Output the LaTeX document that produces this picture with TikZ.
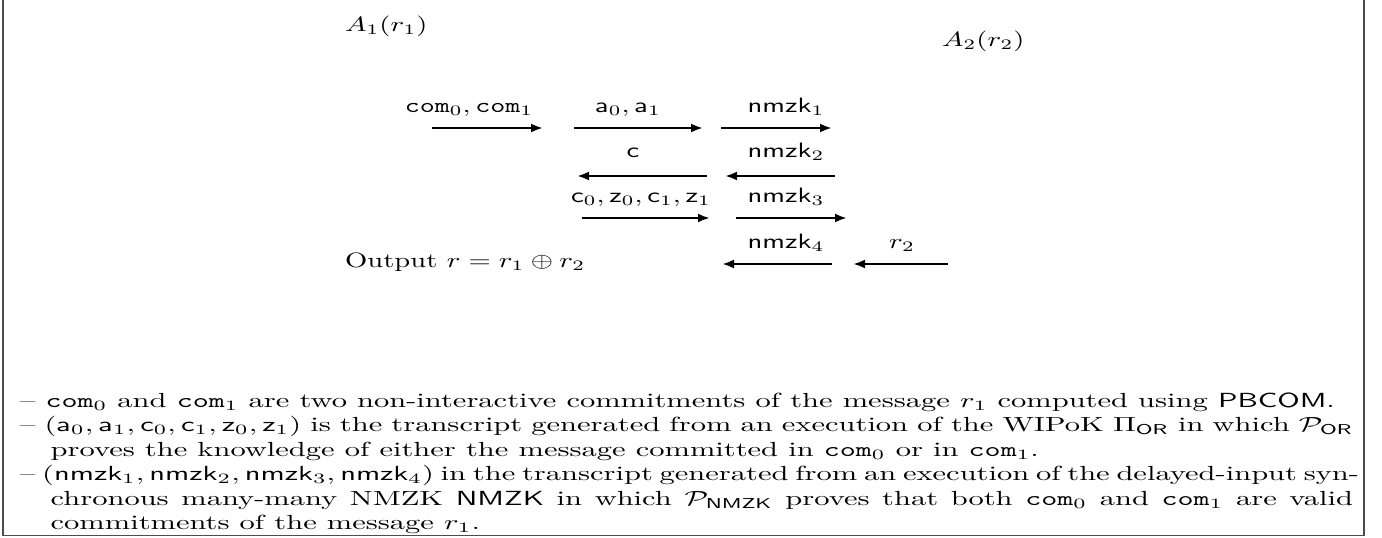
\documentclass[tikz,border=0pt]{standalone}
\usepackage{amsmath,amssymb}
\usepackage{graphicx}
\usetikzlibrary{arrows.meta}
% text is set at 10pt and widened to the page grid
\newcommand{\wide}[1]{\scalebox{2.86}[2.08]{#1}}
\newcommand{\notewide}[1]{\scalebox{3.05}[2.042]{#1}}
\newlength{\contindent}
\setlength{\contindent}{10pt}
\begin{document}
\begin{tikzpicture}[x=1pt,y=-1pt]
\useasboundingbox (0,0) rectangle (1382,538);
\tikzset{
  msg/.style={line width=2.7pt, -{Latex[length=12pt,width=9pt]}},
  lbl/.style={anchor=base, inner sep=0pt},
  lft/.style={anchor=base west, inner sep=0pt},
  frame/.style={draw=black!70, line width=1.3pt}
}
% open frame (top edge lies above the page)
\draw[frame] (3,-5) -- (3,535.5) -- (1364,535.5) -- (1364,-5);

% parties
\node[lft] (A1) at (345,31) {\wide{$A_1(r_1)$}};
\node[lft] (A2) at (942,46) {\wide{$A_2(r_2)$}};

% message labels
\node[lbl] (lcom) at (469,112) {\wide{$\mathtt{com}_0,\mathtt{com}_1$}};
\node[lbl] (la)   at (628,112) {\wide{$\mathsf{a}_0,\mathsf{a}_1$}};
\node[lbl] (ln1)  at (786,112) {\wide{$\mathsf{nmzk}_1$}};
\node[lbl] (lc)   at (633,157) {\wide{$\mathsf{c}$}};
\node[lbl] (ln2)  at (786,157) {\wide{$\mathsf{nmzk}_2$}};
\node[lbl] (lcz)  at (641,202) {\wide{$\mathsf{c}_0,\mathsf{z}_0,\mathsf{c}_1,\mathsf{z}_1$}};
\node[lbl] (ln3)  at (786,202) {\wide{$\mathsf{nmzk}_3$}};
\node[lbl] (ln4)  at (786,248) {\wide{$\mathsf{nmzk}_4$}};
\node[lbl] (lr2)  at (902,248) {\wide{$r_2$}};
\node[lft] (out)  at (345,267) {\wide{Output $r=r_1\oplus r_2$}};

% arrow end points
\coordinate (comS) at (432,128); \coordinate (comE) at (543,128);
\coordinate (aS)   at (574,128); \coordinate (aE)   at (703,128);
\coordinate (n1S)  at (721,128); \coordinate (n1E)  at (832,128);
\coordinate (cS)   at (707,176); \coordinate (cE)   at (577,176);
\coordinate (n2S)  at (835,176); \coordinate (n2E)  at (725,176);
\coordinate (czS)  at (582,218); \coordinate (czE)  at (710,218);
\coordinate (n3S)  at (736,218); \coordinate (n3E)  at (847,218);
\coordinate (n4S)  at (832,264); \coordinate (n4E)  at (722,264);
\coordinate (r2S)  at (948,264); \coordinate (r2E)  at (853,264);

\draw[msg] (comS) -- (comE);
\draw[msg] (aS) -- (aE);
\draw[msg] (n1S) -- (n1E);
\draw[msg] (cS) -- (cE);
\draw[msg] (n2S) -- (n2E);
\draw[msg] (czS) -- (czE);
\draw[msg] (n3S) -- (n3E);
\draw[msg] (n4S) -- (n4E);
\draw[msg] (r2S) -- (r2E);

% notes under the protocol
\node[lft] (notes) at (20,407) {\notewide{\vtop{\hsize=437pt \baselineskip=12pt \lineskiplimit=-10pt
\hbox{\textendash\ $\mathtt{com}_0$ and $\mathtt{com}_1$ are two non-interactive commitments of the message $r_1$ computed using $\mathsf{PBCOM}$.}
\hbox to\hsize{\textendash\ $(\mathsf{a}_0,\mathsf{a}_1,\mathsf{c}_0,\mathsf{c}_1,\mathsf{z}_0,\mathsf{z}_1)$ is the transcript generated from an execution of the WIPoK $\Pi_{\mathsf{OR}}$ in which $\mathcal{P}_{\mathsf{OR}}$}
\hbox{\hskip\contindent proves the knowledge of either the message committed in $\mathtt{com}_0$ or in $\mathtt{com}_1$.}
\hbox to\hsize{\textendash\ $(\mathsf{nmzk}_1,\mathsf{nmzk}_2,\mathsf{nmzk}_3,\mathsf{nmzk}_4)$ in the transcript generated from an execution of the delayed-input syn-}
\hbox to\hsize{\hskip\contindent chronous many-many NMZK $\mathsf{NMZK}$ in which $\mathcal{P}_{\mathsf{NMZK}}$ proves that both $\mathtt{com}_0$ and $\mathtt{com}_1$ are valid}
\hbox{\hskip\contindent commitments of the message $r_1$.}
}}};
\end{tikzpicture}
\end{document}
